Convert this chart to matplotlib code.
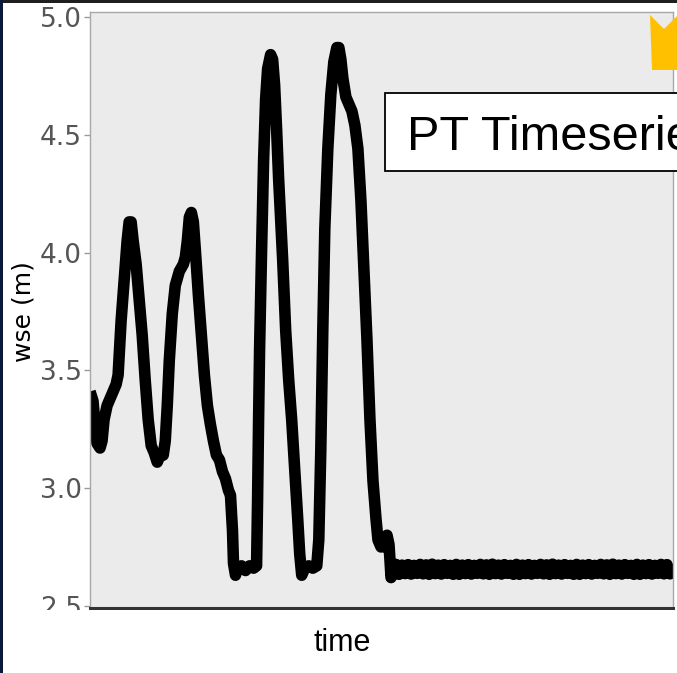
"""Water surface elevation timeseries from the pressure transducer"""
import numpy as np
import matplotlib
matplotlib.use("Agg")
import matplotlib.pyplot as plt
from matplotlib.patches import Rectangle, Polygon

W, H = 677, 673

# hours since deployment and water surface elevation (m)
time_hr = [1, 4, 6, 8, 11, 13, 15, 18, 21, 24,
           27, 29, 32, 35, 38, 40, 42, 44, 47, 50,
           53, 56, 59, 62, 65, 68, 71, 74, 76, 78,
           80, 83, 86, 90, 94, 96, 98, 100, 102, 104,
           106, 109, 112, 115, 118, 121, 124, 127, 130, 133,
           136, 139, 141, 143, 144, 146, 148, 152, 156, 160,
           164, 167, 168, 169, 170, 172, 174, 176, 178, 181,
           183, 185, 187, 189, 191, 193, 196, 199, 202, 205,
           208, 210, 212, 215, 219, 223, 227, 229, 231, 233,
           235, 238, 241, 244, 247, 249, 251, 253, 256, 259,
           262, 265, 268, 271, 274, 277, 280, 283, 286, 288,
           291, 293, 295, 297, 299, 301, 304]
wse_m = [3.41, 3.37, 3.27, 3.19, 3.17, 3.20, 3.29, 3.35, 3.38, 3.41,
         3.44, 3.48, 3.71, 3.88, 4.05, 4.13, 4.13, 4.05, 3.95, 3.80,
         3.65, 3.46, 3.29, 3.18, 3.15, 3.11, 3.14, 3.14, 3.20, 3.35,
         3.54, 3.74, 3.86, 3.92, 3.95, 3.98, 4.05, 4.15, 4.17, 4.13,
         4.01, 3.82, 3.65, 3.48, 3.35, 3.27, 3.20, 3.14, 3.12, 3.07,
         3.04, 2.99, 2.97, 2.82, 2.68, 2.63, 2.66, 2.67, 2.65, 2.67,
         2.66, 2.67, 2.95, 3.29, 3.59, 4.01, 4.39, 4.65, 4.78, 4.84,
         4.82, 4.71, 4.52, 4.31, 4.14, 3.97, 3.67, 3.46, 3.29, 3.08,
         2.87, 2.72, 2.63, 2.66, 2.67, 2.66, 2.67, 2.78, 3.16, 3.67,
         4.10, 4.44, 4.67, 4.81, 4.87, 4.87, 4.82, 4.74, 4.66, 4.63,
         4.60, 4.54, 4.44, 4.22, 3.93, 3.63, 3.29, 3.03, 2.87, 2.78,
         2.75, 2.76, 2.75, 2.80, 2.76, 2.62, 2.66]

# after the last event the sensor sits near the bed and chatters
tail_wse_m = [2.676, 2.634, 2.673, 2.637, 2.675, 2.635, 2.672, 2.638, 2.676, 2.636,
              2.674, 2.634, 2.677, 2.637, 2.673, 2.635, 2.675, 2.638, 2.672, 2.634,
              2.676, 2.634, 2.673, 2.637, 2.675, 2.635, 2.672, 2.638, 2.676, 2.636,
              2.674, 2.634, 2.677, 2.637, 2.673, 2.635, 2.675, 2.638, 2.672, 2.634,
              2.676, 2.634, 2.673, 2.637, 2.675, 2.635, 2.672, 2.638, 2.676, 2.636,
              2.674, 2.634, 2.677, 2.637, 2.673, 2.635, 2.675, 2.638, 2.672, 2.634,
              2.676, 2.634, 2.673, 2.637, 2.675, 2.635, 2.672, 2.638, 2.676, 2.636,
              2.674, 2.634, 2.677, 2.637, 2.673, 2.635, 2.675, 2.638, 2.672, 2.634,
              2.676, 2.634, 2.673, 2.637, 2.675, 2.635, 2.672, 2.638, 2.676, 2.636,
              2.675, 2.636, 2.674]
tail_start_hr, tail_end_hr = 306, 582

yticks = [2.5, 3.0, 3.5, 4.0, 4.5, 5.0]


def px(x, y):
    """pixel position -> figure fraction"""
    return x / W, 1 - y / H


t = np.concatenate([time_hr, np.linspace(tail_start_hr, tail_end_hr, len(tail_wse_m))])
wse = np.concatenate([wse_m, tail_wse_m])

fig = plt.figure(figsize=(W / 100, H / 100), dpi=100, facecolor="white")
ax = fig.add_axes([90 / W, 1 - 608 / H, 583 / W, 596 / H])
ax.set_facecolor("#ebebeb")

ax.plot(t, wse, color="black", lw=8.3, solid_joinstyle="round", solid_capstyle="butt")

ax.set_xlim(t[0], t[-1])
ax.set_ylim(2.491, 5.021)
ax.set_xticks([])
ax.set_yticks(yticks)
ax.set_yticklabels([f"{v:.1f}" for v in yticks])
ax.tick_params(axis="y", length=4, width=1, color="#9a9a9a",
               labelsize=19, labelcolor="#555555", pad=2)

for side in ("left", "top", "right"):
    ax.spines[side].set_color("#a8a8a8")
    ax.spines[side].set_linewidth(1.0)
ax.spines["bottom"].set_color("#333333")
ax.spines["bottom"].set_linewidth(2.2)

# slide elements around the chart
fig.text(*px(24, 312), "wse (m)", rotation=90, ha="center", va="center",
         fontsize=18, color="black", family="DejaVu Sans")

fig.add_artist(Rectangle(px(3, 673), (W - 3) / W, 63 / H, transform=fig.transFigure,
                         facecolor="white", edgecolor="none", zorder=2))
fig.text(*px(342, 643), "time", ha="center", va="center", fontsize=22,
         color="black", family="Liberation Sans", zorder=3)

fig.add_artist(Rectangle(px(385, 171), 320 / W, 78 / H, transform=fig.transFigure,
                         facecolor="white", edgecolor="black", lw=1.3, zorder=3))
fig.text(*px(407, 150), "PT Timeseries", ha="left", va="baseline", fontsize=35,
         color="black", family="Liberation Sans", zorder=4)

arrow = [px(650, 15), px(664, 29), px(678, 15), px(678, 70), px(652, 70)]
fig.add_artist(Polygon(arrow, closed=True, transform=fig.transFigure,
                       facecolor="#ffc000", edgecolor="none", zorder=3))

fig.add_artist(Rectangle(px(0, 3), 1, 3 / H, transform=fig.transFigure,
                         facecolor="#1e1e1e", edgecolor="none", zorder=5))
fig.add_artist(Rectangle(px(0, 673), 3 / W, 1, transform=fig.transFigure,
                         facecolor="#0b1a3c", edgecolor="none", zorder=5))

fig.savefig("out.png", dpi=100, facecolor="white")
plt.close(fig)
